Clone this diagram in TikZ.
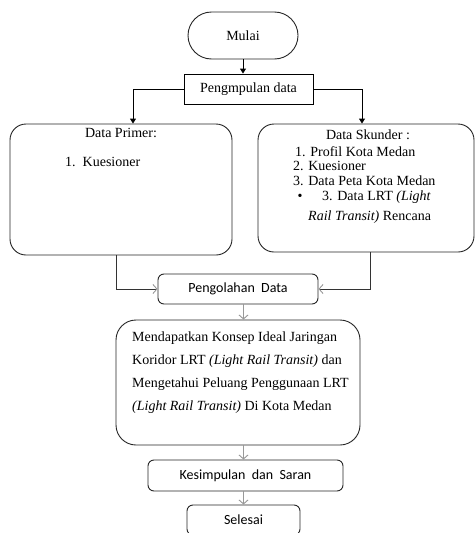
\documentclass[tikz,border=0pt]{standalone}
\usepackage{fontspec}
\setmainfont{Liberation Serif}
\newfontfamily\calibri{Carlito}
\usetikzlibrary{arrows.meta}

\begin{document}
\begin{tikzpicture}
	 [x=1pt,y=-1pt,
	  every node/.style={inner sep=0pt,font=\fontsize{14}{16}\selectfont},
	  box/.style={draw=black!85,line width=0.9pt,rounded corners=#1},
	  sans/.style={font=\calibri\fontsize{14}{16}\selectfont},
	  blk/.style={draw=black,line width=0.9pt,-{Triangle[length=5pt,width=6pt]}},
	  gry/.style={draw=black!40,line width=0.9pt,-{Straight Barb[length=4pt,width=9pt]}},
	  side/.style={draw=black!80,line width=0.9pt,-{Straight Barb[length=4pt,width=9pt,color=black!40]}}]
	\fill[white] (0,0) rectangle (475,533);
	\useasboundingbox (0,0) rectangle (475,533);
	\clip (0,0) rectangle (475,533);

	  \node (mulai)[box=23.5pt,minimum width=110pt,minimum height=47pt] at (243,35.5) {Mulai};
	  \node (kumpul)[draw,line width=0.9pt,minimum width=129pt,minimum height=30pt] at (248.5,89) {Pengmpulan data};

	  \node (primer)[box=16pt,minimum width=222pt,minimum height=131pt] at (121,189.5) {};
	  \node (skunder)[box=16pt,minimum width=216pt,minimum height=128pt] at (366,188) {};

	  \node (olah)[box=6pt,sans,minimum width=160pt,minimum height=30pt] at (238,289) {Pengolahan\ \ Data};
	  \node (konsep)[box=20pt,minimum width=244pt,minimum height=125pt] at (238,382.5) {};
	  \node (simpul)[box=6pt,sans,minimum width=195pt,minimum height=31pt] at (245.5,475.5) {Kesimpulan\ \ dan\ \ Saran};
	  \node (selesai)[box=6pt,sans,minimum width=113pt,minimum height=30pt] at (243.5,520) {Selesai};

	% isi kotak data
	\node (prm1) at (121,133) {Data Primer:};
	\node (prm2)[anchor=west] at (65,162) {1.\ \ Kuesioner};

	\node (skd1) at (368,135) {Data Skunder :};
	\node (skd2)[anchor=west] at (295,152) {1. Profil Kota Medan};
	\node (skd3)[anchor=west] at (293,166) {2. Kuesioner};
	\node (skd4)[anchor=west] at (293,181) {3. Data Peta Kota Medan};
	\node (skd5) at (300,197) {\textbullet};
	\node (skd6)[anchor=west] at (322,197) {3. Data LRT \textit{(Light}};
	\node (skd7)[anchor=west] at (308,217) {\textit{Rail Transit)} Rencana};

	\node (ksp)[anchor=north west,align=left,font=\fontsize{14}{23}\selectfont] at (132,332)
	  {Mendapatkan Konsep Ideal Jaringan\\
	   Koridor LRT \textit{(Light Rail Transit)} dan\\
	   Mengetahui Peluang Penggunaan LRT\\
	   \textit{(Light Rail Transit)} Di Kota Medan};

	\draw[blk] (mulai.south) -- (mulai.south |- kumpul.north);
	\draw[blk] (kumpul.west) -| ([xshift=12pt]primer.north);
	\draw[blk] (kumpul.east) -| ([xshift=-4pt]skunder.north);
	\draw[side] ([xshift=-5pt]primer.south) |- (olah.west);
	\draw[side] ([xshift=4pt]skunder.south) |- (olah.east);

	\foreach \from/\to in {olah/konsep,konsep/simpul,simpul/selesai}
    \draw[gry] (\from.south -| selesai) -- (\to.north -| selesai);

\end{tikzpicture}
\end{document}
